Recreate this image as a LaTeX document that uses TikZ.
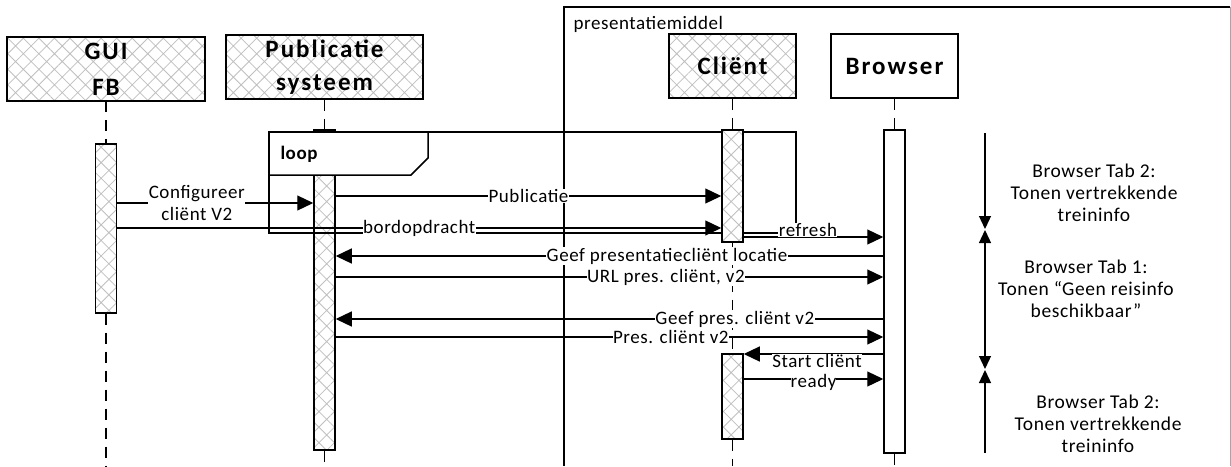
\documentclass[tikz,border=0pt]{standalone}
\usepackage{fontspec}
\setmainfont{Carlito}
\newfontfamily\kopfont[LetterSpace=8]{Carlito}
\newfontfamily\visiofont[LetterSpace=3]{Carlito}
\usetikzlibrary{arrows.meta,patterns.meta}

\begin{document}
\begin{tikzpicture}[x=1pt, y=-1pt,
    kop/.style={draw, line width=1.6pt, align=center, inner sep=0pt, font=\kopfont\bfseries\fontsize{25}{33}\selectfont},
    gearceerd/.style={preaction={fill=white}, pattern={Hatch[angle=45,distance=11pt,line width=0.8pt]}, pattern color=black!25},
    balk/.style={draw, line width=1.5pt, minimum width=21pt, inner sep=0pt, anchor=north},
    levenslijn/.style={line width=1.3pt, dash pattern=on 11pt off 8pt},
    bericht/.style={line width=1.2pt, -{Triangle[length=16pt,width=15pt]}},
    tekst/.style={fill=white, inner sep=0.5pt, font=\visiofont\fontsize{19}{21.5}\selectfont},
    fase/.style={line width=1.3pt, -{Triangle[length=13pt,width=12pt]}},
    notitie/.style={align=center, font=\visiofont\fontsize{19.5}{22}\selectfont}]

    \useasboundingbox (0,0) rectangle (1231,466);

    % kader presentatiemiddel
    \draw[line width=1.5pt] (564,466) -- (564,7) -- (1230,7);
    \draw[gray!70, line width=1pt] (1230,7) -- (1230,466);
    \node[anchor=base west, font=\visiofont\fontsize{19}{21.5}\selectfont] (pmtitel) at (570,29) {presentatiemiddel};

    % objecten
    \node[kop, gearceerd, minimum width=198pt, minimum height=64pt, font=\kopfont\bfseries\fontsize{25}{36}\selectfont] (gui) at (106,69) {GUI\\FB};
    \node[kop, gearceerd, minimum width=197pt, minimum height=64pt] (pub) at (324.5,67) {Publicatie\\systeem};
    \node[kop, gearceerd, minimum width=127pt, minimum height=64pt] (client) at (732.5,66) {Cliënt};
    \node[kop, fill=white, minimum width=127pt, minimum height=64pt] (browser) at (894.5,66) {Browser};

    % activaties
    \node[balk, gearceerd, minimum height=169pt] (guiact) at (106,143) {};
    \node[balk, gearceerd, minimum height=320pt] (pubact) at (324.5,129) {};

    % levenslijnen
    \draw[levenslijn] (gui.south) -- (guiact.north);
    \draw[levenslijn] (guiact.south) -- (guiact.south |- 0,466);
    \draw[levenslijn] (pub.south) -- (pubact.north);
    \draw[levenslijn] (pubact.south) -- (pubact.south |- 0,466);

    % loop
    \draw[line width=1.5pt] (269,132) rectangle (796,233);
    \draw[line width=1.5pt, fill=white] (269,132) -- (428,132) -- (428,158) -- (411,175) -- (269,175) -- cycle;
    \node[font=\visiofont\bfseries\fontsize{19}{21.5}\selectfont] (looplabel) at (299,154) {loop};

    \node[balk, gearceerd, minimum height=112pt] (clact1) at (732.5,129) {};
    \node[balk, gearceerd, minimum height=85pt] (clact2) at (732.5,353) {};
    \node[balk, fill=white, minimum height=323pt] (bract) at (894.5,129) {};

    \draw[levenslijn] (client.south) -- (clact1.north);
    \draw[levenslijn] (clact1.south) -- (clact2.north);
    \draw[levenslijn] (clact2.south) -- (clact2.south |- 0,466);
    \draw[levenslijn] (browser.south) -- (bract.north);
    \draw[levenslijn] (bract.south) -- (bract.south |- 0,466);

    % berichten
    \draw[bericht] (guiact.east |- 0,203) -- node[tekst, align=center, pos=.406] {Configureer\\cliënt V2} (pubact.west |- 0,203);
    \draw[bericht] (guiact.east |- 0,228) -- node[tekst] {bordopdracht} (clact1.west |- 0,228);
    \draw[bericht] (pubact.east |- 0,196) -- node[tekst] {Publicatie} (clact1.west |- 0,196);
    \draw[bericht] (clact1.east |- 0,237) -- node[tekst, pos=.46, yshift=7pt] {refresh} (bract.west |- 0,237);
    \draw[bericht] (bract.west |- 0,256) -- node[tekst, pos=.395] {Geef presentatiecliënt locatie} (pubact.east |- 0,256);
    \draw[bericht] (pubact.east |- 0,277) -- node[tekst, pos=.603] {URL pres. cliënt, v2} (bract.west |- 0,277);
    \draw[bericht] (bract.west |- 0,319) -- node[tekst, pos=.271] {Geef pres. cliënt v2} (pubact.east |- 0,319);
    \draw[bericht] (pubact.east |- 0,337) -- node[tekst, pos=.612] {Pres. cliënt v2} (bract.west |- 0,337);
    \draw[bericht] (bract.west |- 0,354) -- node[tekst, pos=.475, yshift=-7pt, inner sep=0pt] {Start cliënt} (clact2.east |- 0,354);
    \draw[bericht] (clact2.east |- 0,379) -- node[tekst, pos=.5, yshift=-3pt, inner sep=0pt] {ready} (bract.west |- 0,379);

    % fases browser tabs
    \coordinate (f0) at (985,133);
    \coordinate (f1) at (985,229);
    \coordinate (f2) at (985,230);
    \coordinate (f3) at (985,369);
    \coordinate (f4) at (985,370);
    \coordinate (f5) at (985,453);
    \draw[fase] (f0) -- (f1);
    \draw[fase, {Triangle[length=13pt,width=12pt]}-{Triangle[length=13pt,width=12pt]}] (f2) -- (f3);
    \draw[fase, {Triangle[length=13pt,width=12pt]}-] (f4) -- (f5);

    \node[notitie] (tab2a) at (1094,193) {Browser Tab 2:\\Tonen vertrekkende\\treininfo};
    \node[notitie] (tab1) at (1086,289) {Browser Tab 1:\\Tonen “Geen reisinfo\\beschikbaar”};
    \node[notitie] (tab2b) at (1098,424) {Browser Tab 2:\\Tonen vertrekkende\\treininfo};
\end{tikzpicture}
\end{document}
